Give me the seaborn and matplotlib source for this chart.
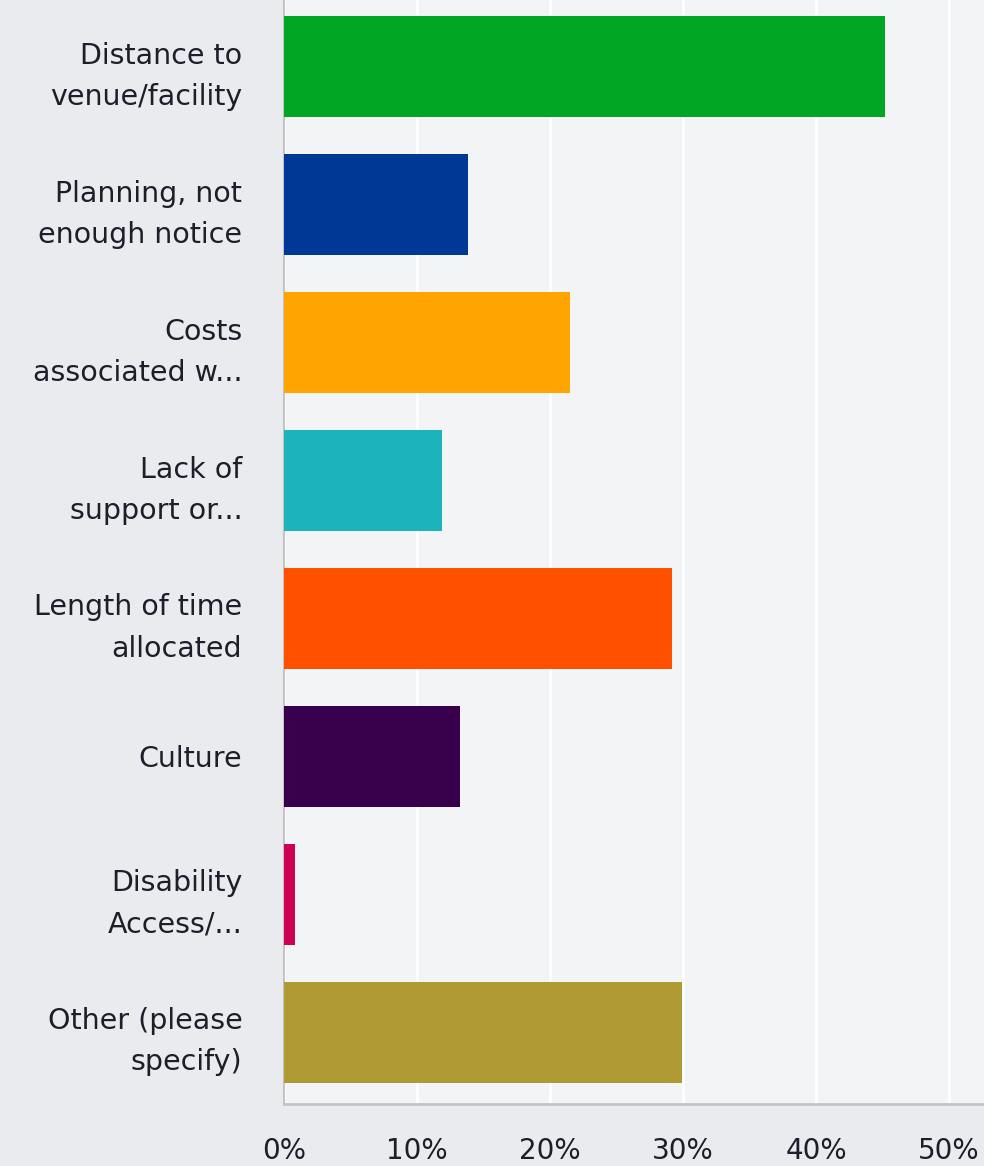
import matplotlib.pyplot as plt
import seaborn as sns
import pandas as pd

categories = [
    "Distance to\nvenue/facility",
    "Planning, not\nenough notice",
    "Costs\nassociated w...",
    "Lack of\nsupport or...",
    "Length of time\nallocated",
    "Culture",
    "Disability\nAccess/...",
    "Other (please\nspecify)",
]
percent = [45.2, 13.8, 21.5, 11.9, 29.2, 13.2, 0.8, 29.9]
colors = ["#00a624", "#003896", "#ffa400", "#1bb4bd",
          "#ff5000", "#38004c", "#cc0055", "#b09a33"]
tick_values = [0, 10, 20, 30, 40, 50]

df = pd.DataFrame({"category": categories, "percent": percent})

sns.set_style("white")
plt.rcParams['font.family'] = ['DejaVu Sans']

fig = plt.figure(figsize=(9.84, 11.66), dpi=100)
fig.patch.set_facecolor("#e9ebee")
ax = fig.add_axes([0.2886, 0.0532, 0.7114, 0.951])
ax.set_facecolor("#f3f4f6")

sns.barplot(data=df, x="percent", y="category", hue="category",
            palette=colors, legend=False, width=0.73, saturation=1,
            linewidth=0, edgecolor="none", ax=ax, zorder=3)

ax.set_xlim(0, 52.63)
ax.set_ylim(7.52, -0.52)
ax.set_xticks(tick_values)
ax.set_xticklabels([f"{v}%" for v in tick_values])
ax.grid(axis="x", color="white", linewidth=2, zorder=0)
ax.set_axisbelow(True)

for side in ["top", "right"]:
    ax.spines[side].set_visible(False)
ax.spines["left"].set_color("#c4c4c4")
ax.spines["bottom"].set_color("#c4c4c4")
ax.spines["left"].set_linewidth(1.5)
ax.spines["bottom"].set_linewidth(2)

ax.tick_params(axis="y", length=0, pad=30, labelsize=20.5, labelcolor="#1e1e2a")
ax.tick_params(axis="x", length=0, pad=24, labelsize=20, labelcolor="#1e1e2a")
for lbl in ax.get_yticklabels():
    lbl.set_linespacing(1.6)
    lbl.set_horizontalalignment("right")

ax.set_xlabel("")
ax.set_ylabel("")

fig.savefig("out.png", dpi=100, facecolor=fig.get_facecolor())
